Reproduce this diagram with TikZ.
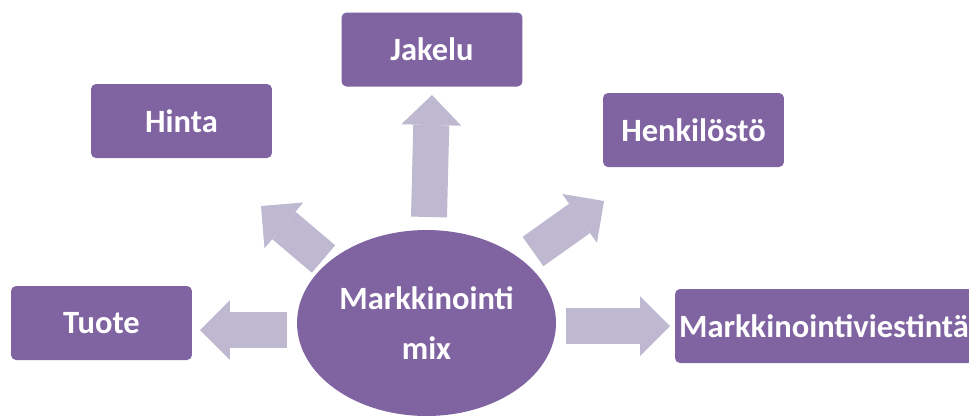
\documentclass[tikz,border=0pt]{standalone}
\usepackage{fontspec}
\setmainfont{Carlito}
\usetikzlibrary{shapes,shapes.geometric}
\usetikzlibrary{positioning,arrows.meta}
\definecolor{boxpurple}{HTML}{8064A2}
\definecolor{arrowlilac}{HTML}{BFB8D1}
\newcommand{\mixfont}{\bfseries\fontsize{18.5}{28.5}\selectfont}
\tikzset{
  mixbox/.style={rectangle, rounded corners=0.1cm, fill=boxpurple, text=white,
    minimum width=3.62cm, minimum height=1.48cm, inner sep=0pt, font=\mixfont},
  mixcore/.style={ellipse, fill=boxpurple, text=white, align=center,
    minimum width=5.18cm, minimum height=3.72cm, inner sep=0pt, font=\mixfont},
  fatarrow/.style={draw=arrowlilac, line width=0.72cm,
    -{Triangle[width=1.2cm 0 0,length=0.6cm 0 0,line width=0pt 0 0]}}
}

\begin{document}
\begin{tikzpicture}[x=0.02cm,y=-0.02cm]
\useasboundingbox (0,0) rectangle (969,417);

% boxes
\node[mixbox] (tuote) at (101.5,323) {Tuote};
\node[mixbox] (hinta) at (181.5,121) {Hinta};
\node[mixbox] (jakelu) at (432,49.5) {Jakelu};
\node[mixbox] (henk) at (693.5,130) {Henkilöstö};
\node[mixbox, minimum width=5.96cm] (viest) at (824,326) {Markkinointiviestintä};

% centre
\node[mixcore] (mix) at (426.5,323) {Markkinointi\\mix};

% arrow ends
\coordinate (tuoteA) at (287,330);
\coordinate (tuoteB) at (200,330);
\coordinate (hintaA) at (323.5,259);
\coordinate (hintaB) at (261,206);
\coordinate (jakeluA) at (429,217);
\coordinate (jakeluB) at (432,95);
\coordinate (henkA) at (533,251.5);
\coordinate (henkB) at (604,201);
\coordinate (viestA) at (566,326);
\coordinate (viestB) at (670,326);

\draw[fatarrow] (tuoteA) -- (tuoteB);
\draw[fatarrow] (hintaA) -- (hintaB);
\draw[fatarrow] (jakeluA) -- (jakeluB);
\draw[fatarrow] (henkA) -- (henkB);
\draw[fatarrow] (viestA) -- (viestB);
\end{tikzpicture}
\end{document}
